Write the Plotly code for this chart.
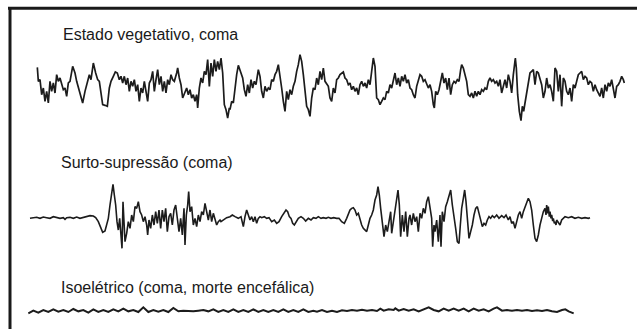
import plotly.graph_objects as go

# ---- Data: EEG traces (time, amplitude readings per segment) ----
# Each segment: list of (t, v) readings at 3x of the segment window; window origin given separately.
veg_seg1 = [(22,58),(25,100),(30,95),(35,140),(40,120),(45,160),(50,130),(55,165),(60,100),(65,130),(70,105),(75,135),(80,80),(85,100),(90,90),(95,110),(100,125),(105,120),(110,145),(115,105),(120,100),(128,55),(135,75),(140,100),(150,140),(158,165),(165,130),(172,100),(178,80),(183,95),(190,45),(197,75),(203,95),(208,100),(213,140),(218,170),(225,172),(232,175),(238,120),(243,100),(250,85),(256,72),(262,75),(268,95),(273,85),(278,105),(283,85),(288,110),(293,90),(298,130),(303,100),(308,115),(313,95),(318,130),(323,110),(328,160),(333,120),(338,135),(343,100),(348,130),(353,160),(358,105),(363,95),(368,70),(373,130),(378,95),(383,65),(388,110),(393,85),(398,130),(403,100),(408,135),(413,95),(418,110),(423,80),(428,95),(433,100),(440,75),(443,60),(448,90),(453,110),(458,150),(463,135),(470,120),(475,140),(480,125),(485,150),(490,140),(495,160),(500,140),(503,180),(508,120),(513,90),(518,105),(523,70),(528,80),(533,35),(538,115),(543,45),(548,85),(553,35),(558,70),(563,40),(568,65),(573,30),(578,75),(583,170),(588,185),(593,210),(598,180)]
veg_seg2 = [(15,185),(20,160),(25,165),(30,120),(35,80),(40,52),(47,70),(53,90),(58,125),(63,145),(68,110),(73,135),(78,95),(83,120),(88,100),(93,110),(100,65),(105,85),(110,130),(115,150),(120,115),(125,130),(130,120),(135,125),(140,95),(145,100),(150,80),(155,70),(160,50),(165,80),(170,120),(175,160),(180,190),(185,130),(190,155),(195,125),(200,140),(205,115),(210,100),(215,70),(220,50),(225,20),(230,40),(235,80),(240,140),(245,175),(250,185),(255,205),(260,150),(265,120),(270,125),(275,90),(280,110),(285,70),(290,95),(295,60),(300,100),(305,110),(310,115),(315,150),(320,160),(325,120),(330,135),(335,95),(340,90),(345,80),(350,75),(355,72),(360,90),(365,95),(370,110),(375,105),(380,125),(385,115),(390,130),(395,120),(400,140),(405,110),(410,100),(415,115),(420,105),(425,120),(430,95),(435,110),(440,70),(445,30),(450,55),(455,150),(460,155),(465,170),(470,160),(475,150),(480,155),(485,130),(490,135),(495,110),(500,120),(505,100),(510,75),(515,110),(520,90),(525,115),(530,85),(535,100),(540,80),(545,105),(550,95),(555,120),(560,125),(565,140),(570,150),(575,115),(580,100),(585,80),(590,85),(595,100),(600,95),(605,110),(610,120)]
veg_seg3 = [(15,110),(20,130),(25,170),(28,180),(32,130),(37,140),(42,125),(47,100),(52,75),(57,105),(62,90),(67,125),(72,90),(77,140),(82,110),(87,100),(92,105),(97,95),(102,100),(107,65),(110,50),(115,60),(120,80),(125,100),(130,140),(135,145),(140,135),(145,150),(150,130),(155,145),(160,130),(165,140),(170,125),(175,130),(180,120),(185,125),(190,100),(195,90),(200,100),(205,95),(210,105),(215,100),(220,115),(225,95),(230,135),(235,110),(240,95),(245,120),(250,80),(255,100),(260,135),(265,80),(268,40),(271,30),(274,60),(278,140),(283,190),(288,218),(292,175),(296,190),(300,165),(305,130),(310,95),(315,75),(320,70),(325,65),(330,110),(335,70),(340,75),(345,90),(350,110),(355,150),(360,130),(365,90),(370,120),(375,110),(380,130),(385,160),(390,60),(395,70),(400,130),(405,80),(410,175),(415,90),(420,100),(425,130),(430,140),(435,120),(440,160),(445,110),(450,120),(455,100),(460,80),(465,75),(470,70),(475,95),(480,85),(485,90),(490,110),(495,100),(500,105),(505,130),(510,110),(515,125),(520,135),(525,145),(530,120),(535,150),(540,110),(545,130),(550,105),(555,115),(560,95),(565,130),(570,150),(575,115),(580,110),(585,100),(590,85),(595,95),(598,105)]

burst_seg1 = [(15,130),(25,128),(35,127),(45,130),(55,126),(65,128),(75,130),(85,125),(95,128),(105,130),(115,128),(120,133),(125,128),(135,127),(145,130),(155,126),(165,130),(175,127),(185,124),(195,122),(205,123),(212,128),(220,140),(227,160),(233,172),(240,168),(245,145),(250,130),(255,90),(260,60),(264,28),(268,60),(272,90),(276,140),(280,165),(284,130),(288,190),(291,220),(294,80),(297,150),(300,200),(305,175),(310,140),(315,160),(320,120),(325,140),(330,95),(335,100),(340,80),(345,110),(350,120),(355,140),(360,125),(365,150),(368,180),(372,135),(377,160),(382,120),(387,150),(392,110),(397,145),(402,105),(407,160),(412,105),(417,140),(422,100),(427,170),(432,125),(437,115),(442,150),(447,105),(452,90),(457,140),(462,170),(467,130),(472,180),(477,100),(480,210),(484,120),(488,90),(491,50),(495,110),(500,95),(505,150),(510,130),(515,155),(520,120),(525,140),(530,110),(535,120),(540,85),(545,110),(550,135),(555,105),(560,140),(565,115),(570,130),(575,150),(580,140),(585,135)]
burst_seg2 = [(18,140),(25,135),(35,128),(45,125),(52,120),(60,125),(70,130),(78,125),(85,155),(90,125),(95,105),(100,120),(105,135),(110,125),(115,140),(120,125),(125,145),(130,130),(135,125),(140,128),(148,125),(155,130),(162,128),(170,140),(178,135),(185,145),(192,140),(200,125),(207,115),(213,105),(218,110),(223,125),(228,130),(233,145),(238,150),(243,140),(250,130),(258,125),(265,130),(272,138),(280,130),(288,135),(295,128),(303,130),(310,125),(318,130),(325,128),(333,130),(340,127),(348,130),(356,128),(365,130),(372,130),(380,140),(388,145),(395,130),(400,115),(405,105),(410,100),(415,98),(420,105),(425,120),(430,115),(435,135),(440,150),(445,160),(450,165),(455,170),(460,150),(465,130),(470,120),(475,105),(480,75),(485,60),(489,35),(493,60),(497,100),(502,140),(507,185),(512,150),(517,170),(522,140),(527,110),(530,175),(535,140),(540,110),(545,70),(549,45),(553,90),(557,185),(562,120),(567,170),(572,110),(577,185),(582,130)]
burst_seg3 = [(15,120),(20,150),(25,115),(30,140),(35,125),(40,170),(45,115),(50,130),(55,100),(60,115),(65,80),(70,65),(75,95),(80,130),(83,215),(87,150),(90,170),(95,135),(100,200),(105,120),(108,215),(112,110),(117,140),(122,95),(127,80),(132,60),(137,45),(142,90),(147,120),(152,160),(157,200),(162,205),(166,150),(170,100),(175,70),(179,45),(183,80),(187,130),(192,190),(197,170),(202,150),(207,120),(212,100),(217,95),(222,115),(227,140),(232,155),(237,145),(242,150),(247,135),(252,125),(257,130),(262,122),(268,128),(275,120),(282,130),(290,122),(297,128),(303,120),(310,135),(315,125),(320,145),(325,140),(330,160),(335,140),(340,120),(345,110),(350,130),(355,110),(360,95),(365,80),(370,70),(375,80),(380,105),(385,150),(390,190),(395,200),(400,180),(405,150),(410,125),(415,110),(420,100),(423,120),(425,90),(428,115),(430,95),(433,125),(435,110),(438,130),(440,120),(443,138),(445,130),(448,145),(450,140),(453,150),(455,135),(460,145),(465,150),(470,135),(475,130),(480,125),(490,128),(500,125),(510,130),(520,127),(530,130),(540,128),(550,130),(555,128)]

iso_seg1 = [(85,190),(100,182),(115,188),(130,180),(145,186),(160,178),(175,185),(190,180),(205,186),(220,177),(235,184),(250,180),(265,188),(280,178),(295,186),(310,180),(325,186),(340,178),(355,184),(370,176),(385,184),(400,180),(415,186),(430,172),(445,186),(460,180),(475,185),(490,180),(505,186),(520,174),(535,184),(550,182),(565,183),(580,184),(595,182),(610,180),(625,184),(640,178),(655,186),(670,180),(685,186),(700,178),(715,186),(730,180),(745,186),(760,178),(775,186),(790,180),(805,186),(820,180),(835,186),(850,178),(865,186),(880,180),(895,186),(910,178),(925,186),(940,182)]
iso_seg2 = [(0,185),(15,180),(30,186),(45,182),(60,186),(75,181),(90,183),(105,180),(120,182),(135,179),(150,182),(165,180),(180,183),(190,176),(200,182),(215,178),(230,180),(235,175),(245,182),(260,177),(275,182),(290,178),(305,184),(320,178),(335,172),(350,180),(365,184),(380,176),(395,182),(410,176),(425,182),(440,176),(455,184),(470,176),(485,182),(500,178),(515,184),(530,176),(540,172),(555,182),(570,180),(585,182),(600,180),(615,182),(630,180),(645,183),(660,181),(675,183),(690,180),(705,184),(720,186),(735,180),(745,178),(755,184),(770,190)]

labels = ["Estado vegetativo, coma", "Surto-supressão (coma)", "Isoelétrico (coma, morte encefálica)"]

# ---- Layout constants (positions) ----
W, H = 637, 329
SCALE = 3.0
veg_windows = [(30, 48), (225, 48), (425, 48)]
burst_windows = [(25, 175), (215, 175), (405, 175)]
iso_windows = [(0, 250), (317, 250)]
label_pos = [(61, 34.5), (59, 162.5), (59, 287.5)]
INK = "#1c1c1c"


def join(segments, windows):
    xs, ys = [], []
    for seg, (ox, oy) in zip(segments, windows):
        for t, v in seg:
            px = ox + t / SCALE
            py = oy + v / SCALE
            if xs and px <= xs[-1]:
                continue
            xs.append(px)
            ys.append(py)
    return xs, ys


fig = go.Figure()
traces = [
    (join([veg_seg1, veg_seg2, veg_seg3], veg_windows), 1.7),
    (join([burst_seg1, burst_seg2, burst_seg3], burst_windows), 1.6),
    (join([iso_seg1, iso_seg2], iso_windows), 2.0),
]
for (xs, ys), lw in traces:
    fig.add_trace(go.Scatter(x=xs, y=ys, mode="lines",
                             line=dict(color=INK, width=lw, shape="linear"),
                             hoverinfo="skip", showlegend=False))

for text, (lx, ly) in zip(labels, label_pos):
    fig.add_annotation(x=lx, y=ly, xref="x", yref="y", text=text, showarrow=False,
                       xanchor="left", yanchor="middle",
                       font=dict(family="Liberation Sans, Arial, sans-serif", size=16, color="#1a1a1a"))

# frame lines (top and left)
fig.add_shape(type="line", x0=8, x1=W + 2, y0=8.3, y1=8.3, xref="x", yref="y",
              line=dict(color="#1a1a1a", width=3))
fig.add_shape(type="line", x0=10, x1=10, y0=7, y1=H + 2, xref="x", yref="y",
              line=dict(color="#1a1a1a", width=3))

fig.update_layout(
    width=W, height=H,
    margin=dict(l=0, r=0, t=0, b=0),
    paper_bgcolor="white", plot_bgcolor="white",
    xaxis=dict(range=[0, W], visible=False, fixedrange=True),
    yaxis=dict(range=[H, 0], visible=False, fixedrange=True),
)

fig.write_html("out.html", config={"displayModeBar": False},
               post_script="document.body.style.margin='0';document.body.style.overflow='hidden';")
